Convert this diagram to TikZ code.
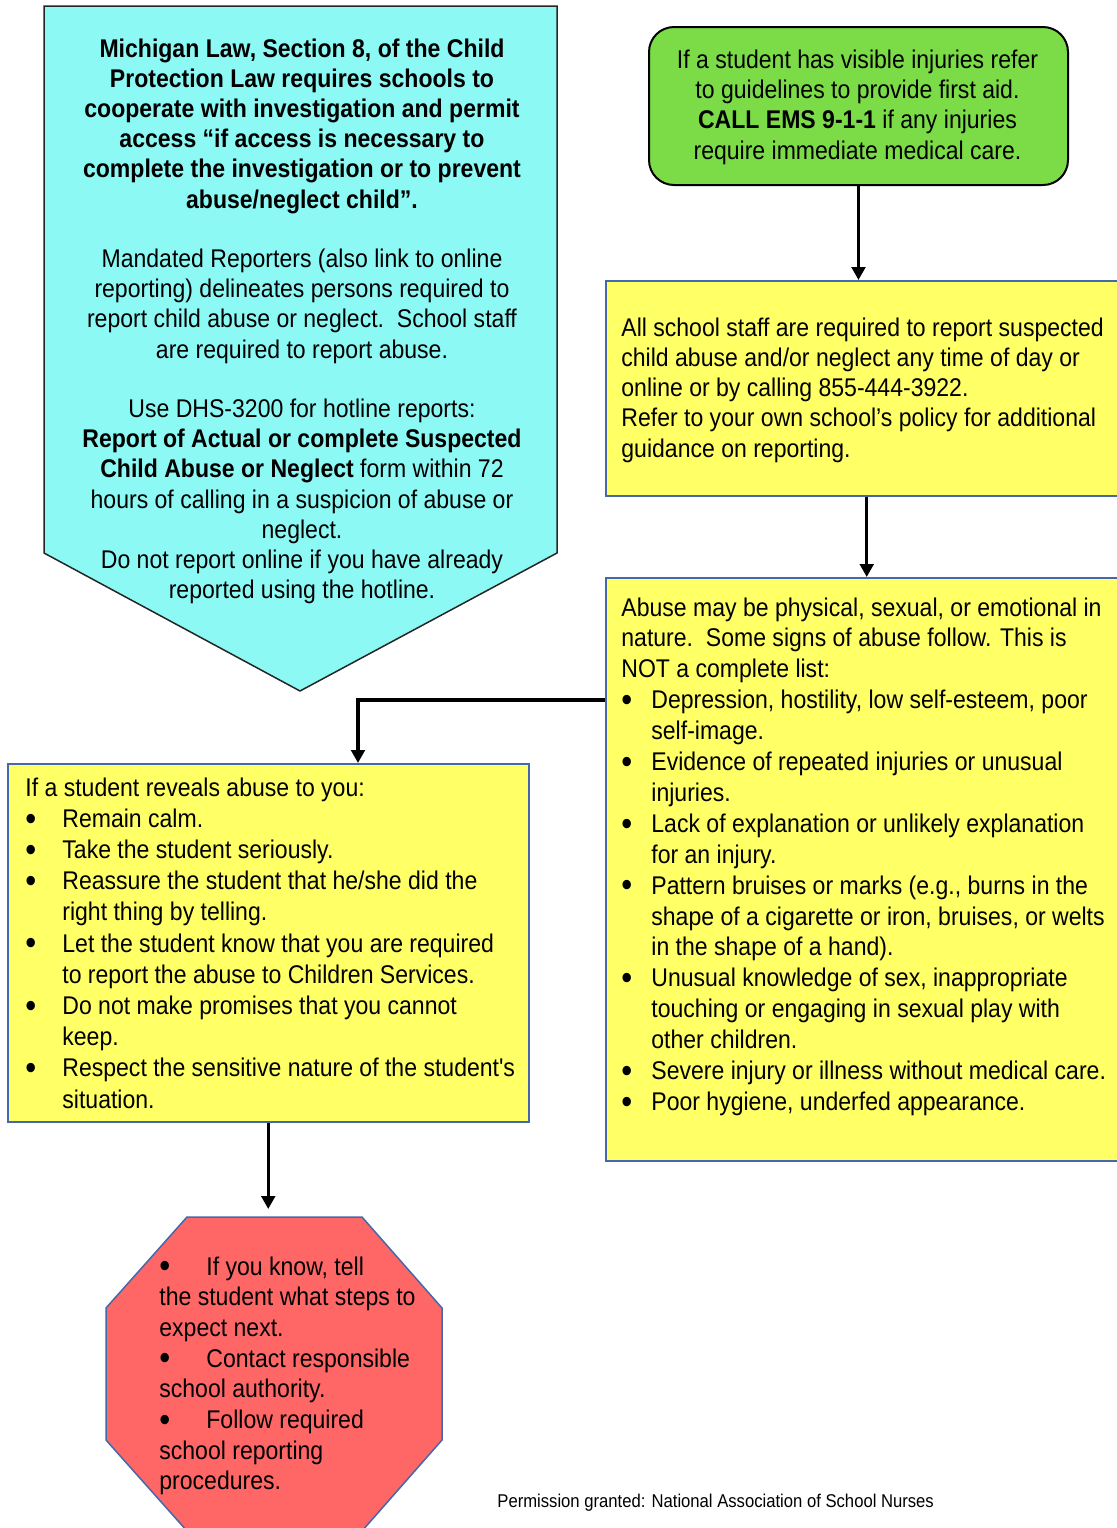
\documentclass[tikz,border=0pt]{standalone}
\usepackage{fontspec}
\setmainfont{Liberation Sans}[FakeStretch=0.9,Ligatures=TeXOff]
\usetikzlibrary{arrows.meta,calc}

\definecolor{lawcyan}{RGB}{140,249,244}
\definecolor{aidgreen}{RGB}{123,220,72}
\definecolor{noteyellow}{RGB}{255,255,102}
\definecolor{stopred}{RGB}{255,102,102}
\definecolor{rimblue}{RGB}{68,104,170}

% body text at a given line spacing
\newcommand\bodyfont[1]{\fontsize{12.8pt}{#1}\selectfont}
% a slightly heavier list bullet
\newcommand\listdot{\raisebox{-1.4pt}{\scalebox{1.35}{\textbullet}}}
% bulleted paragraph with hanging indent: #1 indent, #2 text (break lines with \newline)
\newcommand\listitem[2]{\par\hangindent=#1\hangafter=1\noindent\makebox[#1][l]{\listdot}#2\par}

\begin{document}
\begin{tikzpicture}[x=0.5pt,y=-0.5pt,
  panel/.style={draw=rimblue,line width=0.75pt,fill=noteyellow,inner sep=0pt,anchor=north west},
  arr/.style={line width=1.6pt,-{Triangle[length=6.5pt,width=6.8pt]}},
  copy/.style={inner sep=0pt}]
\useasboundingbox (0,0) rectangle (1116,1528);

% ---- law notice (downward pentagon) ----
\draw[fill=lawcyan,draw=black!85,line width=0.75pt]
  (44,6) -- (557,6) -- (557,553) -- (300,691) -- (44,553) -- cycle;
\node[copy,anchor=base] (law) at (302,57) {\begin{minipage}[t]{280pt}\centering\bodyfont{15.1pt}%
\textbf{Michigan Law, Section 8, of the Child\\
Protection Law requires schools to\\
cooperate with investigation and permit\\
access “if access is necessary to\\
complete the investigation or to prevent\\
abuse/neglect child”.}\\[14.6pt]
Mandated Reporters (also link to online\\
reporting) delineates persons required to\\
report child abuse or neglect.\ \ School staff\\
are required to report abuse.\\[14.6pt]
Use DHS-3200 for hotline reports:\\
\textbf{Report of Actual or complete Suspected}\\
\textbf{Child Abuse or Neglect} form within 72\\
hours of calling in a suspicion of abuse or\\
neglect.\\
Do not report online if you have already\\
reported using the hotline.
\end{minipage}};

% ---- first aid (rounded green box) ----
\node[draw=black,line width=1pt,fill=aidgreen,rounded corners=12.5pt,
      minimum width=209.5pt,minimum height=79pt,inner sep=0pt,anchor=north west]
  (aid) at (648,26) {};
\node[copy,anchor=base] (aidtext) at (857.5,68) {\begin{minipage}[t]{230pt}\centering\bodyfont{15.2pt}%
If a student has visible injuries refer\\
to guidelines to provide first aid.\\
\textbf{CALL EMS 9-1-1} if any injuries\\
require immediate medical care.
\end{minipage}};

% ---- reporting duty ----
\node[panel,minimum width=261pt,minimum height=107.5pt] (duty) at (605,280) {};
\node[copy,anchor=base west] (dutytext) at (621,336) {\begin{minipage}[t]{260pt}\raggedright\bodyfont{15.15pt}%
All school staff are required to report suspected\\
child abuse and/or neglect any time of day or\\
online or by calling 855-444-3922.\\
Refer to your own school’s policy for additional\\
guidance on reporting.
\end{minipage}};

% ---- signs of abuse ----
\node[panel,minimum width=261pt,minimum height=291.5pt] (signs) at (605,577) {};
\node[copy,anchor=base west] (signstext) at (621,616) {\begin{minipage}[t]{260pt}\raggedright\bodyfont{15.45pt}%
Abuse may be physical, sexual, or emotional in\\
nature.\ \ Some signs of abuse follow. This is\\
NOT a complete list:
\listitem{15pt}{Depression, hostility, low self-esteem, poor\newline self-image.}
\listitem{15pt}{Evidence of repeated injuries or unusual\newline injuries.}
\listitem{15pt}{Lack of explanation or unlikely explanation\newline for an injury.}
\listitem{15pt}{Pattern bruises or marks (e.g., burns in the\newline shape of a cigarette or iron, bruises, or welts\newline in the shape of a hand).}
\listitem{15pt}{Unusual knowledge of sex, inappropriate\newline touching or engaging in sexual play with\newline other children.}
\listitem{15pt}{Severe injury or illness without medical care.}
\listitem{15pt}{Poor hygiene, underfed appearance.}
\end{minipage}};

% ---- what to do when a student discloses ----
\node[panel,minimum width=260.5pt,minimum height=179pt] (reveal) at (7,763) {};
\node[copy,anchor=base west] (revealtext) at (25,796) {\begin{minipage}[t]{255pt}\raggedright\bodyfont{15.6pt}%
If a student reveals abuse to you:
\listitem{18.5pt}{Remain calm.}
\listitem{18.5pt}{Take the student seriously.}
\listitem{18.5pt}{Reassure the student that he/she did the\newline right thing by telling.}
\listitem{18.5pt}{Let the student know that you are required\newline to report the abuse to Children Services.}
\listitem{18.5pt}{Do not make promises that you cannot\newline keep.}
\listitem{18.5pt}{Respect the sensitive nature of the student's\newline situation.}
\end{minipage}};

% ---- next steps (octagon) ----
\draw[fill=stopred,draw=rimblue,line width=0.75pt]
  (187,1217) -- (362,1217) -- (442,1308) -- (442,1440) -- (362,1531)
  -- (187,1531) -- (106,1440) -- (106,1308) -- cycle;
\coordinate (octtop) at (274,1209);
\node[copy,anchor=base west] (steps) at (159,1275) {\begin{minipage}[t]{150pt}\raggedright\bodyfont{15.35pt}%
\makebox[23.5pt][l]{\listdot}If you know, tell\\
the student what steps to\\
expect next.\\
\makebox[23.5pt][l]{\listdot}Contact responsible\\
school authority.\\
\makebox[23.5pt][l]{\listdot}Follow required\\
school reporting\\
procedures.
\end{minipage}};

% ---- credit line ----
\node[copy,anchor=base west,font=\fontsize{9.25pt}{11pt}\selectfont] (credit) at (497,1507)
  {Permission granted: National Association of School Nurses};

% ---- connectors ----
\draw[arr] (aid.south) -- (aid.south |- duty.north);
\draw[arr] (duty.south) -- (signs.north);
\draw[arr] ($(signs.north west)+(0,123)$) -| ($(reveal.north west)+(351,0)$);
\draw[arr] (reveal.south) -- (reveal.south |- octtop);
\end{tikzpicture}
\end{document}
